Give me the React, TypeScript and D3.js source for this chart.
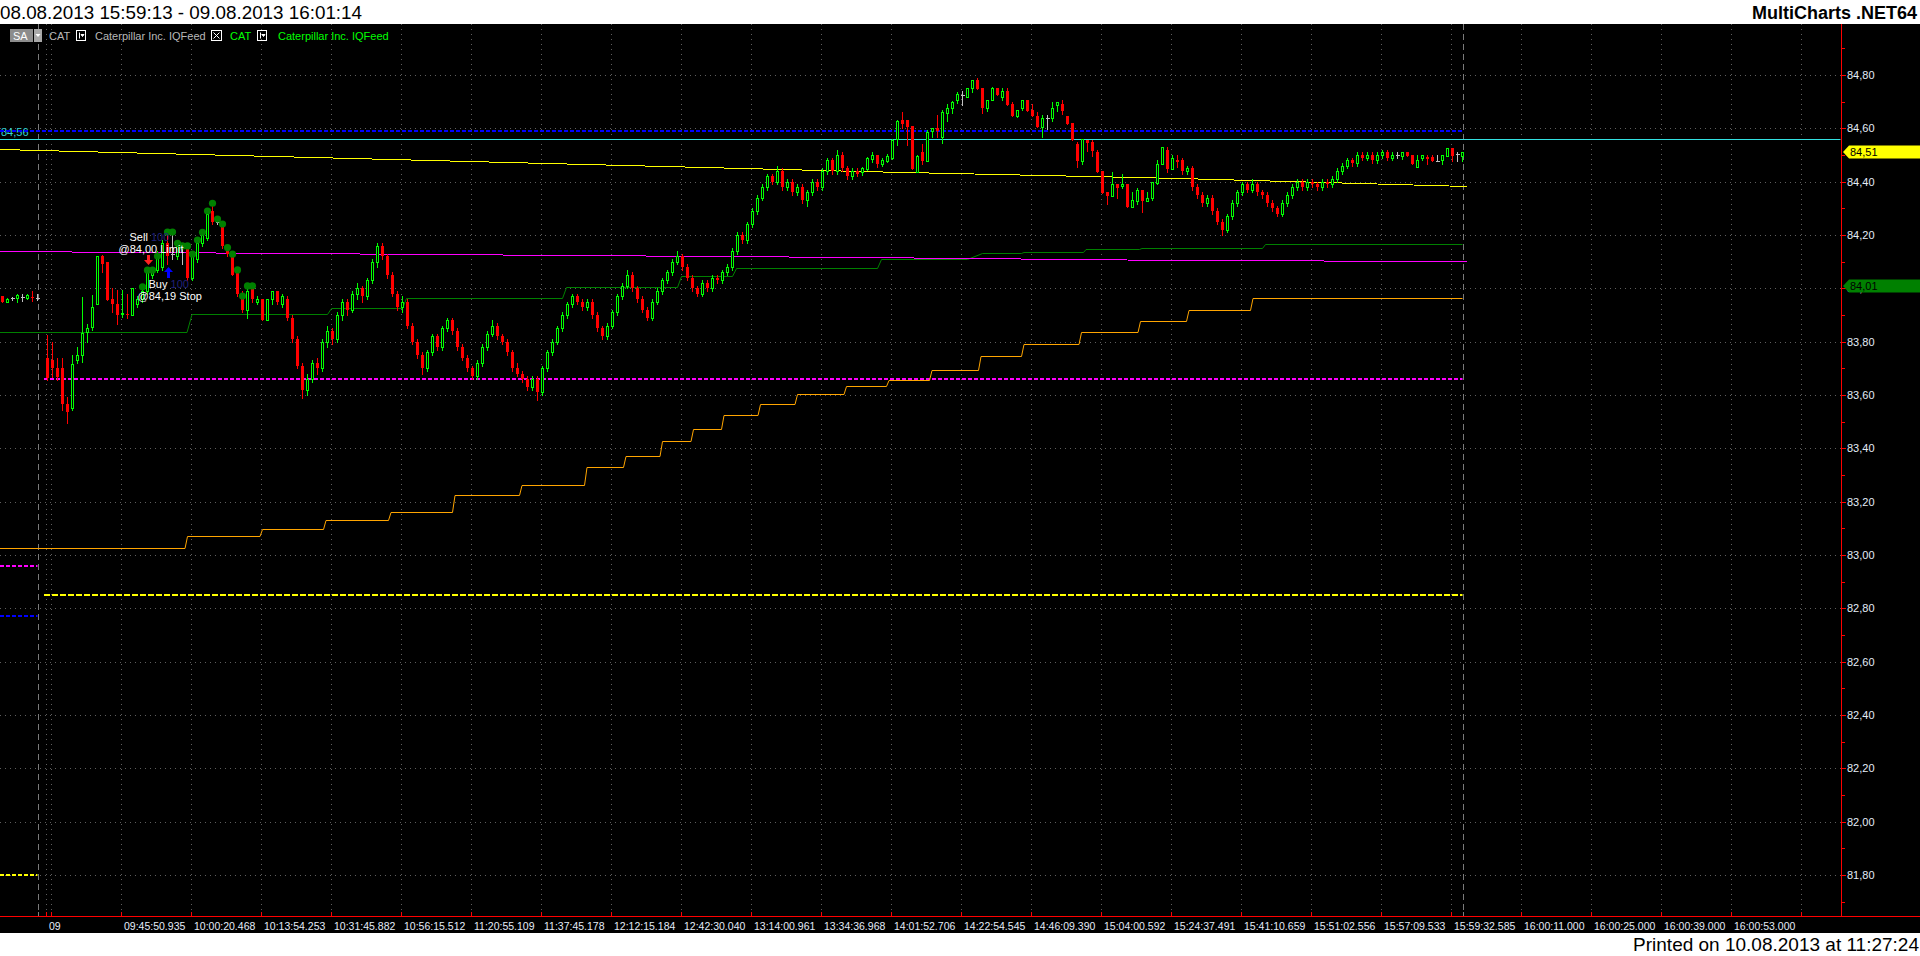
import React, { useEffect } from 'react'
import * as d3 from 'd3'

type Bar = [number, number, number, number] | null

const W = 1920
const H = 956

const titleText = '08.08.2013 15:59:13 - 09.08.2013 16:01:14'
const brandText = 'MultiCharts .NET64'
const printedText = 'Printed on 10.08.2013 at 11:27:24'

// price axis
const priceTicks = [81.8, 82.0, 82.2, 82.4, 82.6, 82.8, 83.0, 83.2, 83.4, 83.6, 83.8, 84.0, 84.2, 84.4, 84.6, 84.8]
const minorTicks = [81.7, 81.9, 82.1, 82.3, 82.5, 82.7, 82.9, 83.1, 83.3, 83.5, 83.7, 83.9, 84.1, 84.3, 84.5, 84.7, 84.9]

// time axis (bar based)
const dateLabel = '09'
const dateBar = 9
const timeLabels = [
	'09:45:50.935', '10:00:20.468', '10:13:54.253', '10:31:45.882', '10:56:15.512', '11:20:55.109',
	'11:37:45.178', '12:12:15.184', '12:42:30.040', '13:14:00.961', '13:34:36.968', '14:01:52.706',
	'14:22:54.545', '14:46:09.390', '15:04:00.592', '15:24:37.491', '15:41:10.659', '15:51:02.556',
	'15:57:09.533', '15:59:32.585', '16:00:11.000', '16:00:25.000', '16:00:39.000', '16:00:53.000'
]
const sessionStartBar = 7
const lastBar = 292

// o h l c
const preMarket: Bar[] = [
	[83.971, 83.971, 83.947, 83.947], [83.947, 83.965, 83.947, 83.959], [83.963, 83.968, 83.957, 83.963],
	[83.962, 83.977, 83.95, 83.974], [83.968, 83.977, 83.952, 83.968], [83.965, 83.977, 83.96, 83.975],
	[83.969, 83.991, 83.952, 83.967], [83.963, 83.977, 83.958, 83.963], null
]
const morning: Bar[] = [
	[83.737, 83.825, 83.656, 83.662], [83.731, 83.8, 83.668, 83.7], [83.7, 83.737, 83.656, 83.668],
	[83.7, 83.737, 83.543, 83.566], [83.568, 83.593, 83.496, 83.537], [83.55, 83.75, 83.543, 83.718],
	[83.731, 83.781, 83.721, 83.75], [83.75, 83.968, 83.725, 83.831], [83.837, 83.868, 83.8, 83.852],
	[83.856, 83.975, 83.843, 83.931], [83.94, 84.121, 83.94, 84.121], [84.121, 84.125, 84.062, 84.093],
	[84.1, 84.1, 83.956, 83.956], [83.96, 84.0, 83.912, 83.943], [83.94, 83.993, 83.868, 83.9],
	[83.906, 83.993, 83.893, 83.908], [83.905, 83.98, 83.89, 83.9], [83.9, 84.0, 83.9, 84.0],
	[83.94, 83.97, 83.93, 83.96], [83.96, 84.0, 83.95, 83.99], [83.99, 84.07, 83.98, 84.06],
	[84.05, 84.08, 84.04, 84.07], [84.07, 84.14, 84.06, 84.13], [84.08, 84.18, 84.07, 84.17],
	[84.17, 84.21, 84.09, 84.12], [84.13, 84.21, 84.11, 84.13], [84.12, 84.17, 84.11, 84.16],
	[84.15, 84.17, 84.09, 84.15], [84.15, 84.16, 84.03, 84.04], [84.04, 84.14, 84.03, 84.13],
	[84.11, 84.17, 84.1, 84.17], [84.17, 84.21, 84.16, 84.2], [84.19, 84.28, 84.18, 84.28],
	[84.29, 84.31, 84.24, 84.25], [84.25, 84.26, 84.24, 84.25], [84.24, 84.25, 84.15, 84.16],
	[84.15, 84.16, 84.12, 84.13], [84.13, 84.13, 84.05, 84.05], [84.06, 84.08, 83.97, 83.98],
	[83.98, 83.99, 83.91, 83.92], [83.92, 84.0, 83.89, 83.99], [84.0, 84.0, 83.95, 83.96],
	[83.95, 83.97, 83.94, 83.96], [83.96, 83.96, 83.88, 83.88], [83.88, 83.96, 83.88, 83.96],
	[83.96, 83.99, 83.94, 83.99], [83.99, 83.99, 83.94, 83.95], [83.94, 83.98, 83.93, 83.97],
	[83.96, 83.97, 83.88, 83.89], [83.89, 83.9, 83.8, 83.81], [83.81, 83.82, 83.7, 83.71]
]
const midday: Bar[] = [
	[83.71, 83.72, 83.59, 83.62], [83.62, 83.68, 83.6, 83.66], [83.66, 83.73, 83.65, 83.72],
	[83.72, 83.74, 83.68, 83.7], [83.7, 83.81, 83.69, 83.8], [83.8, 83.86, 83.78, 83.84],
	[83.84, 83.85, 83.79, 83.81], [83.81, 83.91, 83.8, 83.9], [83.9, 83.96, 83.88, 83.95],
	[83.95, 83.96, 83.9, 83.92], [83.92, 83.99, 83.91, 83.98], [83.98, 84.02, 83.96, 84.0],
	[84.0, 84.01, 83.95, 83.97], [83.97, 84.04, 83.96, 84.03], [84.03, 84.11, 84.02, 84.1],
	[84.1, 84.17, 84.08, 84.16], [84.16, 84.17, 84.11, 84.12], [84.12, 84.13, 84.04, 84.05],
	[84.05, 84.06, 83.97, 83.98], [83.98, 83.99, 83.92, 83.93], [83.93, 83.97, 83.91, 83.95],
	[83.95, 83.96, 83.85, 83.86], [83.86, 83.87, 83.79, 83.8], [83.8, 83.81, 83.74, 83.75],
	[83.75, 83.76, 83.68, 83.7], [83.7, 83.77, 83.69, 83.76], [83.76, 83.83, 83.75, 83.82],
	[83.82, 83.83, 83.77, 83.78], [83.78, 83.86, 83.77, 83.85], [83.85, 83.89, 83.84, 83.88],
	[83.88, 83.89, 83.83, 83.84], [83.84, 83.85, 83.77, 83.78], [83.78, 83.79, 83.73, 83.74],
	[83.74, 83.75, 83.69, 83.7], [83.7, 83.71, 83.66, 83.67], [83.67, 83.73, 83.66, 83.72],
	[83.72, 83.79, 83.71, 83.78], [83.78, 83.84, 83.77, 83.83], [83.83, 83.88, 83.82, 83.86],
	[83.86, 83.87, 83.81, 83.82], [83.82, 83.83, 83.79, 83.8], [83.8, 83.81, 83.75, 83.76],
	[83.76, 83.77, 83.69, 83.7], [83.7, 83.72, 83.67, 83.68], [83.68, 83.69, 83.65, 83.66],
	[83.66, 83.67, 83.62, 83.63], [83.63, 83.67, 83.62, 83.66], [83.66, 83.67, 83.58, 83.61],
	[83.61, 83.71, 83.6, 83.7], [83.7, 83.77, 83.69, 83.76], [83.76, 83.81, 83.75, 83.8],
	[83.8, 83.86, 83.79, 83.85], [83.85, 83.91, 83.84, 83.9], [83.9, 83.95, 83.89, 83.94],
	[83.94, 83.98, 83.93, 83.97], [83.97, 83.98, 83.94, 83.95], [83.95, 83.96, 83.92, 83.93],
	[83.93, 83.96, 83.92, 83.95], [83.95, 83.96, 83.89, 83.9], [83.9, 83.91, 83.84, 83.85],
	[83.85, 83.86, 83.81, 83.82], [83.82, 83.87, 83.81, 83.86], [83.86, 83.92, 83.85, 83.91],
	[83.91, 83.98, 83.9, 83.97], [83.97, 84.02, 83.96, 84.01], [84.01, 84.07, 84.0, 84.05],
	[84.05, 84.06, 83.99, 84.0], [84.0, 84.01, 83.95, 83.96], [83.96, 83.97, 83.91, 83.92],
	[83.92, 83.93, 83.88, 83.89], [83.89, 83.96, 83.88, 83.95], [83.95, 84.0, 83.94, 83.99],
	[83.99, 84.04, 83.98, 84.03], [84.03, 84.07, 84.02, 84.06], [84.06, 84.11, 84.05, 84.1],
	[84.1, 84.14, 84.09, 84.12], [84.12, 84.13, 84.07, 84.08], [84.08, 84.09, 84.03, 84.04],
	[84.04, 84.05, 83.99, 84.0], [84.0, 84.01, 83.97, 83.98], [83.98, 84.03, 83.97, 84.02],
	[84.02, 84.03, 83.99, 84.0], [84.0, 84.05, 83.99, 84.04], [84.04, 84.05, 84.02, 84.03],
	[84.03, 84.07, 84.02, 84.06], [84.06, 84.09, 84.05, 84.08], [84.08, 84.15, 84.07, 84.14],
	[84.14, 84.21, 84.13, 84.2], [84.2, 84.21, 84.17, 84.18], [84.18, 84.25, 84.17, 84.24],
	[84.24, 84.3, 84.23, 84.29], [84.29, 84.35, 84.28, 84.34], [84.34, 84.39, 84.33, 84.38],
	[84.38, 84.43, 84.37, 84.42], [84.42, 84.43, 84.39, 84.4], [84.4, 84.46, 84.39, 84.44],
	[84.44, 84.45, 84.37, 84.38], [84.38, 84.41, 84.37, 84.4], [84.4, 84.41, 84.35, 84.36],
	[84.36, 84.39, 84.35, 84.38], [84.38, 84.39, 84.32, 84.33], [84.33, 84.37, 84.31, 84.36],
	[84.36, 84.41, 84.35, 84.4], [84.4, 84.41, 84.37, 84.38], [84.38, 84.45, 84.37, 84.44],
	[84.44, 84.49, 84.43, 84.48], [84.48, 84.49, 84.43, 84.44], [84.44, 84.52, 84.43, 84.5],
	[84.5, 84.51, 84.44, 84.45], [84.45, 84.46, 84.41, 84.42], [84.42, 84.45, 84.41, 84.44],
	[84.44, 84.45, 84.42, 84.43]
]
const afternoon: Bar[] = [
	[84.437, 84.456, 84.425, 84.45], [84.446, 84.493, 84.443, 84.487], [84.485, 84.51, 84.475, 84.5],
	[84.5, 84.5, 84.456, 84.468], [84.466, 84.487, 84.458, 84.481], [84.478, 84.502, 84.475, 84.497],
	[84.487, 84.56, 84.485, 84.556], [84.56, 84.631, 84.537, 84.628], [84.631, 84.66, 84.6, 84.616],
	[84.631, 84.631, 84.537, 84.606], [84.608, 84.608, 84.447, 84.447], [84.437, 84.5, 84.435, 84.497],
	[84.511, 84.54, 84.466, 84.478], [84.478, 84.593, 84.478, 84.587], [84.591, 84.6, 84.568, 84.6],
	[84.6, 84.65, 84.566, 84.591], [84.568, 84.668, 84.546, 84.662], [84.658, 84.691, 84.628, 84.678],
	[84.678, 84.703, 84.658, 84.697], [84.708, 84.737, 84.696, 84.728], [84.725, 84.741, 84.687, 84.725],
	[84.718, 84.75, 84.716, 84.75], [84.75, 84.78, 84.737, 84.78], [84.781, 84.787, 84.747, 84.747],
	[84.751, 84.751, 84.658, 84.677], [84.677, 84.708, 84.666, 84.708], [84.708, 84.756, 84.706, 84.75],
	[84.751, 84.751, 84.726, 84.726], [84.718, 84.751, 84.706, 84.74], [84.74, 84.751, 84.688, 84.688],
	[84.691, 84.7, 84.648, 84.648], [84.648, 84.668, 84.641, 84.668], [84.678, 84.708, 84.668, 84.708],
	[84.708, 84.708, 84.666, 84.666], [84.668, 84.693, 84.647, 84.647], [84.648, 84.66, 84.606, 84.606],
	[84.606, 84.65, 84.568, 84.637], [84.637, 84.65, 84.597, 84.637], [84.637, 84.697, 84.628, 84.678],
	[84.688, 84.697, 84.666, 84.697], [84.691, 84.708, 84.653, 84.666], [84.648, 84.648, 84.616, 84.618],
	[84.621, 84.621, 84.558, 84.558], [84.541, 84.55, 84.456, 84.478], [84.478, 84.56, 84.468, 84.56],
	[84.556, 84.556, 84.516, 84.546], [84.55, 84.556, 84.497, 84.516], [84.511, 84.52, 84.437, 84.437],
	[84.44, 84.44, 84.358, 84.358], [84.36, 84.36, 84.318, 84.347], [84.347, 84.437, 84.347, 84.39],
	[84.39, 84.39, 84.337, 84.377], [84.385, 84.427, 84.377, 84.39], [84.391, 84.391, 84.306, 84.306],
	[84.306, 84.36, 84.306, 84.331], [84.328, 84.378, 84.318, 84.368], [84.368, 84.368, 84.287, 84.328],
	[84.328, 84.36, 84.328, 84.337], [84.337, 84.397, 84.331, 84.397], [84.396, 84.481, 84.393, 84.468],
	[84.466, 84.53, 84.466, 84.53], [84.52, 84.53, 84.437, 84.447], [84.449, 84.5, 84.447, 84.487],
	[84.483, 84.5, 84.456, 84.475]
]
const lateSession: Bar[] = [
	[84.48, 84.49, 84.43, 84.44], [84.44, 84.46, 84.43, 84.45], [84.45, 84.46, 84.37, 84.38],
	[84.38, 84.39, 84.34, 84.35], [84.35, 84.36, 84.31, 84.32], [84.32, 84.35, 84.31, 84.34],
	[84.34, 84.35, 84.28, 84.29], [84.29, 84.3, 84.24, 84.25], [84.25, 84.26, 84.2, 84.22],
	[84.22, 84.28, 84.21, 84.27], [84.27, 84.33, 84.26, 84.32], [84.32, 84.37, 84.31, 84.36],
	[84.36, 84.4, 84.35, 84.39], [84.39, 84.4, 84.36, 84.37], [84.37, 84.41, 84.36, 84.39],
	[84.39, 84.4, 84.35, 84.36], [84.36, 84.37, 84.34, 84.35], [84.35, 84.36, 84.31, 84.32],
	[84.32, 84.33, 84.29, 84.3], [84.3, 84.31, 84.27, 84.28], [84.28, 84.33, 84.27, 84.32],
	[84.32, 84.36, 84.31, 84.35], [84.35, 84.39, 84.34, 84.38], [84.38, 84.41, 84.37, 84.4],
	[84.4, 84.41, 84.37, 84.38], [84.38, 84.41, 84.37, 84.4], [84.4, 84.41, 84.38, 84.39],
	[84.39, 84.4, 84.37, 84.38], [84.38, 84.41, 84.37, 84.4], [84.4, 84.41, 84.38, 84.39],
	[84.39, 84.42, 84.38, 84.41], [84.41, 84.45, 84.4, 84.44], [84.44, 84.47, 84.43, 84.46],
	[84.46, 84.49, 84.45, 84.48], [84.48, 84.49, 84.46, 84.47], [84.47, 84.51, 84.46, 84.5],
	[84.5, 84.51, 84.48, 84.49], [84.49, 84.51, 84.48, 84.5], [84.5, 84.51, 84.47, 84.48],
	[84.48, 84.51, 84.47, 84.5], [84.5, 84.52, 84.49, 84.51], [84.51, 84.52, 84.48, 84.49],
	[84.49, 84.51, 84.48, 84.5], [84.5, 84.51, 84.49, 84.5],
	[84.497, 84.51, 84.485, 84.51], [84.51, 84.51, 84.497, 84.497], [84.5, 84.5, 84.466, 84.468],
	[84.456, 84.5, 84.456, 84.481], [84.487, 84.5, 84.481, 84.5], [84.491, 84.5, 84.466, 84.485],
	[84.491, 84.5, 84.478, 84.478], [84.478, 84.5, 84.478, 84.478], [84.481, 84.5, 84.468, 84.5],
	[84.497, 84.528, 84.497, 84.528], [84.528, 84.528, 84.478, 84.497], [84.503, 84.51, 84.478, 84.503],
	[84.497, 84.51, 84.478, 84.51]
]

// indicator lines: [bar, price]
const yellowAvg: [number, number][] = [[-0.5, 84.521], [171.5, 84.439], [235.5, 84.412], [292.9, 84.383]]
const magentaAvg: [number, number][] = [[-0.5, 84.139], [171.5, 84.116], [235.5, 84.108], [292.9, 84.101]]
const greenStop: [number, number][] = [
	[-0.5, 83.835], [36.9, 83.835], [37.9, 83.903], [65, 83.903], [65.8, 83.925], [80, 83.925],
	[80.8, 83.962], [112, 83.962], [112.8, 84.005], [135, 84.005], [135.8, 84.045], [146, 84.045],
	[146.8, 84.075], [175, 84.075], [175.8, 84.11], [193, 84.11], [196, 84.131], [203.8, 84.131],
	[204.3, 84.137], [216.2, 84.137], [216.7, 84.146], [227.4, 84.146], [227.9, 84.152], [252, 84.152],
	[252.6, 84.165], [292, 84.165]
]
const orangeStop: [number, number][] = [
	[-0.5, 83.028], [36.5, 83.028], [37, 83.07], [51.5, 83.07], [52, 83.097], [64.2, 83.097],
	[64.7, 83.13], [77.2, 83.13], [77.7, 83.162], [90, 83.162], [90.5, 83.226], [103.4, 83.226],
	[103.9, 83.263], [116.4, 83.263], [116.9, 83.331], [124.2, 83.331], [124.7, 83.373], [131.5, 83.373],
	[132, 83.428], [137.7, 83.428], [138.2, 83.474], [143.8, 83.474], [144.3, 83.524], [151.1, 83.524],
	[151.6, 83.566], [158.5, 83.566], [159, 83.602], [168.3, 83.602], [168.8, 83.635], [176.8, 83.635],
	[177.3, 83.658], [185.4, 83.658], [185.9, 83.694], [195.2, 83.694], [195.7, 83.745], [203.8, 83.745],
	[204.3, 83.791], [215.3, 83.791], [215.8, 83.837], [227.1, 83.837], [227.6, 83.878], [236.8, 83.878],
	[237.3, 83.919], [249.6, 83.919], [250.1, 83.965], [292, 83.965]
]
const sarDots: [number, number][] = [
	[28, 84.006], [29, 84.068], [30, 84.068], [31, 84.121], [33, 84.211], [34, 84.211], [35, 84.169],
	[36, 84.159], [37, 84.159], [38, 84.128], [39, 84.181], [40, 84.21], [41, 84.29], [42, 84.319],
	[43, 84.26], [44, 84.241], [45, 84.153], [46, 84.128], [47, 84.069], [48, 83.971], [49, 84.009],
	[50, 84.009]
]

// horizontal levels
const cyanLevel = 84.56
const sessionLevels = [84.59, 83.66, 82.85]
const priorLevels = [82.96, 82.77, 81.8]
const lastPriceTag = 84.51
const stopTag = 84.01

// orders
const sellOrder = { bar: 29, price: 84.125, label: 'Sell ', qty: '100', detail: '@84,00 Limit' }
const buyOrder = { bar: 33, price: 84.08, label: 'Buy ', qty: '100', detail: '@84,19 Stop' }

const FONT = 'Liberation Sans, Arial, sans-serif'
const AXIS_TEXT = '#e4ecf8'
const GRID = '#5e5e5e'

const fmt = (v: number) => v.toFixed(2).replace('.', ',')

const App = () => {
	useEffect(() => {
		document.body.style.margin = '0'
	}, [])

	const axisX = 1841.5
	const plotTop = 24
	const plotBottom = 916
	const x = d3.scaleLinear().domain([-0.5, 367.7]).range([0, 1841])
	const y = d3.scaleLinear().domain([81.8, 84.8]).range([875, 75])
	const bars: Bar[] = [...preMarket, ...morning, ...midday, ...afternoon, ...lateSession]
	const line = d3
		.line<[number, number]>()
		.x((d) => x(d[0]))
		.y((d) => Math.round(y(d[1])) + 0.5)
	const px = (v: number) => Math.round(v) + 0.5

	const gridBars = d3.range(26).map((k) => 10 + 14 * k)
	const levelColors = ['#0000ff', '#ff00ff', '#ffff00']
	const priorColors = ['#ff00ff', '#0000ff', '#ffff00']

	const tag = (v: number, fill: string) => {
		const cy = Math.round(y(v))
		return (
			<g key={fill}>
				<polygon points={`1843,${cy} 1849,${cy - 6.5} 1920,${cy - 6.5} 1920,${cy + 6.5} 1849,${cy + 6.5}`} fill={fill} />
				<text x={1850} y={cy + 4} fontSize={11} fontFamily={FONT} fill="#000">
					{fmt(v)}
				</text>
			</g>
		)
	}

	const order = (o: typeof sellOrder, up: boolean, color: string) => {
		const cx = px(x(o.bar))
		const top = Math.round(y(o.price))
		const arrow = up
			? `M${cx - 4.5},${top + 5} L${cx},${top} L${cx + 4.5},${top + 5} L${cx + 1.5},${top + 5} L${cx + 1.5},${top + 11} L${cx - 1.5},${top + 11} L${cx - 1.5},${top + 5} Z`
			: `M${cx - 1.5},${top} L${cx + 1.5},${top} L${cx + 1.5},${top + 5} L${cx + 4.5},${top + 5} L${cx},${top + 10} L${cx - 4.5},${top + 5} L${cx - 1.5},${top + 5} Z`
		const labelY = up ? top + 21 : top - 14
		const detailY = up ? top + 33 : top - 2
		return (
			<g>
				<path d={arrow} fill={color} />
				<text x={up ? cx - 20 : cx - 19} y={labelY} fontSize={11} fontFamily={FONT} fill="#fff">
					{o.label}
					<tspan fill="#20207a">{o.qty}</tspan>
				</text>
				<text x={up ? cx - 31 : cx - 30} y={detailY} fontSize={11} fontFamily={FONT} fill="#fff">
					{o.detail}
				</text>
			</g>
		)
	}

	return (
		<svg width={W} height={H} style={{ position: 'absolute', left: 0, top: 0, display: 'block' }}>
			<rect width={W} height={H} fill="#fff" />
			<rect x={0} y={plotTop} width={W} height={933 - plotTop} fill="#000" />

			{/* header */}
			<text x={0} y={19} fontSize={19} fontFamily={FONT} fill="#000" textLength={362} lengthAdjust="spacingAndGlyphs">
				{titleText}
			</text>
			<text x={1917} y={19} fontSize={18} fontWeight="bold" fontFamily={FONT} fill="#000" textAnchor="end">
				{brandText}
			</text>
			<text x={1919} y={951} fontSize={19} fontFamily={FONT} fill="#000" textAnchor="end">
				{printedText}
			</text>

			{/* grid */}
			<g stroke={GRID} strokeDasharray="1 4" shapeRendering="crispEdges">
				{priceTicks.map((v) => (
					<line key={v} x1={0} x2={axisX - 1} y1={px(y(v))} y2={px(y(v))} />
				))}
				{[dateBar, ...gridBars].map((b) => (
					<line key={b} x1={Math.floor(x(b)) - 0.5} x2={Math.floor(x(b)) - 0.5} y1={plotTop} y2={plotBottom} />
				))}
			</g>
			<g stroke="#7a7a7a" strokeDasharray="6 4" shapeRendering="crispEdges">
				{[sessionStartBar, lastBar].map((b) => (
					<line key={b} x1={px(x(b)) - 0.5} x2={px(x(b)) - 0.5} y1={plotTop} y2={plotBottom} />
				))}
			</g>

			{/* legend */}
			<g fontFamily={FONT} fontSize={11}>
				<rect x={10} y={29} width={23} height={13} fill="#8c8c8c" />
				<text x={13} y={40} fill="#fff">SA</text>
				<rect x={34} y={29} width={8} height={13} fill="#a8a8a8" />
				<path d="M35.5,34 L40.5,34 L38,37 Z" fill="#fff" />
				<text x={49} y={40} fill="#b8b8b8">CAT</text>
				<rect x={76.5} y={30.5} width={9} height={10} fill="none" stroke="#fff" />
				<path d="M79.5,32.5 L79.5,38.5 M81,34.5 L84,34.5 L82.5,36.5 Z" stroke="#fff" fill="#fff" strokeWidth={1} />
				<text x={95} y={40} fill="#b8b8b8">Caterpillar Inc.  IQFeed</text>
				<rect x={211.5} y={30.5} width={10} height={10} fill="none" stroke="#fff" />
				<path d="M213.5,32.5 L219.5,38.5 M219.5,32.5 L213.5,38.5" stroke="#fff" />
				<text x={230} y={40} fill="#00ff00">CAT</text>
				<rect x={257.5} y={30.5} width={9} height={10} fill="none" stroke="#fff" />
				<path d="M260.5,32.5 L260.5,38.5 M262,34.5 L265,34.5 L263.5,36.5 Z" stroke="#fff" fill="#fff" strokeWidth={1} />
				<text x={278} y={40} fill="#00ff00">Caterpillar Inc.  IQFeed</text>
			</g>

			{/* levels */}
			<line x1={0} x2={axisX - 1} y1={px(y(cyanLevel))} y2={px(y(cyanLevel))} stroke="#33e0e0" />
			<text x={1} y={px(y(cyanLevel)) - 4} fontSize={11} fontFamily={FONT} fill="#33d6d6">
				{fmt(cyanLevel)}
			</text>
			{sessionLevels.map((v, i) => (
				<line
					key={v}
					x1={i === 0 ? 0 : 44}
					x2={x(lastBar)}
					y1={Math.round(y(v))}
					y2={Math.round(y(v))}
					stroke={levelColors[i]}
					strokeWidth={2}
					strokeDasharray={i === 2 ? '6 2' : '4 2'}
				/>
			))}
			{priorLevels.map((v, i) => (
				<line
					key={v}
					x1={0}
					x2={x(sessionStartBar)}
					y1={Math.round(y(v))}
					y2={Math.round(y(v))}
					stroke={priorColors[i]}
					strokeWidth={2}
					strokeDasharray="4 2"
				/>
			))}

			{/* indicators */}
			<path d={line(orangeStop) || ''} fill="none" stroke="#ffa500" strokeWidth={1} />
			<path d={line(greenStop) || ''} fill="none" stroke="#008000" strokeWidth={1} />
			<path d={line(magentaAvg) || ''} fill="none" stroke="#ff00ff" strokeWidth={1} shapeRendering="crispEdges" />
			<path d={line(yellowAvg) || ''} fill="none" stroke="#ffff00" strokeWidth={1} shapeRendering="crispEdges" />

			{/* candles */}
			<g shapeRendering="crispEdges">
				{bars.map((b, i) => {
					if (!b) return null
					const [o, h, l, c] = b
					const cx = Math.floor(x(i)) + 0.5
					const color = c > o ? '#00ff00' : c < o ? '#ff0000' : '#c0c0c0'
					const top = Math.round(y(Math.max(o, c)))
					const bot = Math.round(y(Math.min(o, c)))
					return (
						<g key={i}>
							<line x1={cx} x2={cx} y1={Math.round(y(h))} y2={Math.round(y(l)) + 1} stroke={color} />
							{c > o && (
								<rect x={cx - 1} y={top + 0.5} width={2} height={Math.max(bot - top, 1)} fill="#000" stroke={color} />
							)}
							{c < o && <rect x={cx - 1.5} y={top} width={3} height={Math.max(bot - top, 1)} fill={color} />}
							{c === o && <line x1={cx - 2} x2={cx + 2} y1={top + 0.5} y2={top + 0.5} stroke={color} />}
						</g>
					)
				})}
			</g>

			{/* SAR-like dots */}
			{sarDots.map(([b, v]) => (
				<circle key={b} cx={x(b)} cy={y(v)} r={3.6} fill="#008000" />
			))}

			{order(sellOrder, false, '#ff2020')}
			{order(buyOrder, true, '#0000ff')}

			{/* price axis */}
			<line x1={axisX} x2={axisX} y1={plotTop} y2={plotBottom} stroke="#ff0000" />
			<g stroke="#ff0000" shapeRendering="crispEdges">
				{priceTicks.map((v) => (
					<line key={v} x1={axisX} x2={axisX + 4} y1={px(y(v))} y2={px(y(v))} />
				))}
				{minorTicks
					.filter((v) => y(v) > plotTop && y(v) < plotBottom)
					.map((v) => (
						<line key={v} x1={axisX} x2={axisX + 3} y1={px(y(v))} y2={px(y(v))} />
					))}
			</g>
			<g fontFamily={FONT} fontSize={11} fill={AXIS_TEXT}>
				{priceTicks.map((v) => (
					<text key={v} x={1847} y={Math.round(y(v)) + 4}>
						{fmt(v)}
					</text>
				))}
			</g>
			{tag(lastPriceTag, '#ffff00')}
			{tag(stopTag, '#008000')}

			{/* time axis */}
			<line x1={0} x2={W} y1={plotBottom + 0.5} y2={plotBottom + 0.5} stroke="#ff0000" />
			<g stroke="#ff0000" shapeRendering="crispEdges">
				{[dateBar, ...gridBars].map((b) => (
					<line key={b} x1={Math.floor(x(b)) - 0.5} x2={Math.floor(x(b)) - 0.5} y1={plotBottom - 4} y2={plotBottom} />
				))}
			</g>
			<g stroke="#808080" shapeRendering="crispEdges">
				{[sessionStartBar, lastBar].map((b) => (
					<line key={b} x1={px(x(b)) - 0.5} x2={px(x(b)) - 0.5} y1={plotBottom - 4} y2={plotBottom} />
				))}
			</g>
			<g fontFamily={FONT} fontSize={10.5} fill={AXIS_TEXT}>
				<text x={Math.floor(x(dateBar)) + 2} y={930}>
					{dateLabel}
				</text>
				{timeLabels.map((t, i) => (
					<text key={t} x={Math.floor(x(gridBars[i + 1])) + 2} y={930}>
						{t}
					</text>
				))}
			</g>
		</svg>
	)
}

export default App
